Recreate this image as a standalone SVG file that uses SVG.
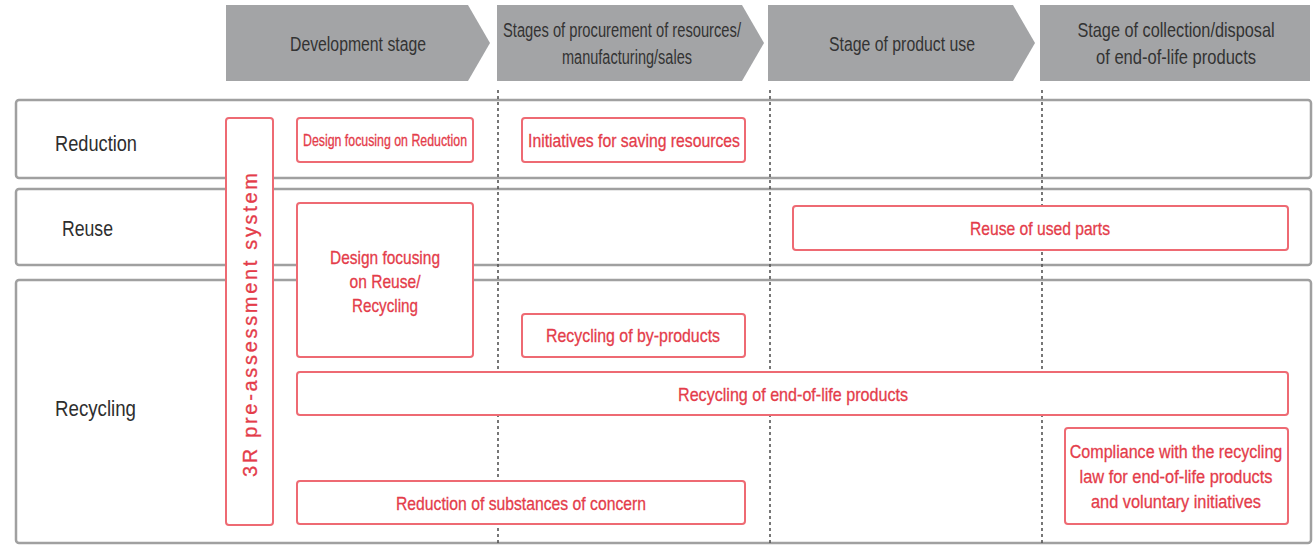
<svg xmlns="http://www.w3.org/2000/svg" width="1315" height="546" viewBox="0 0 1315 546">
  <style>
    .stage { fill: #a3a4a6; }
    .stage-txt { font-family: "Liberation Sans", Arial, sans-serif; font-size: 20px; fill: #333333; text-anchor: middle; }
    .row { fill: #ffffff; stroke: #a0a0a0; stroke-width: 2.5; }
    .row-txt { font-family: "Liberation Sans", Arial, sans-serif; font-size: 22px; fill: #2e2e2e; }
    .divider { stroke: #555555; stroke-width: 1.6; stroke-dasharray: 3 3; fill: none; }
    .box { fill: #ffffff; stroke: #ee6a73; stroke-width: 2; }
    .box-txt { font-family: "Liberation Sans", Arial, sans-serif; font-size: 19px; fill: #e43c4a; text-anchor: middle; stroke: #e43c4a; stroke-width: 0.3; }
    .small { font-size: 16px; }
    .vert-txt { font-family: "Liberation Sans", "DejaVu Sans", sans-serif; font-size: 20px; fill: #e43c4a; text-anchor: middle; stroke: #e43c4a; stroke-width: 0.3; }
  </style>

  <!-- lifecycle stage header arrows -->
  <g id="stage-development">
    <polygon class="stage" points="226,5 468,5 490,43 468,81 226,81"/>
    <text class="stage-txt" x="358" y="51" textLength="136" lengthAdjust="spacingAndGlyphs">Development stage</text>
  </g>
  <g id="stage-procurement">
    <polygon class="stage" points="497,5 742,5 764,43 742,81 497,81"/>
    <text class="stage-txt" x="622" y="37" textLength="238" lengthAdjust="spacingAndGlyphs">Stages of procurement of resources/</text>
    <text class="stage-txt" x="627" y="64" textLength="130" lengthAdjust="spacingAndGlyphs">manufacturing/sales</text>
  </g>
  <g id="stage-use">
    <polygon class="stage" points="768,5 1013,5 1035,43 1013,81 768,81"/>
    <text class="stage-txt" x="902" y="51" textLength="146" lengthAdjust="spacingAndGlyphs">Stage of product use</text>
  </g>
  <g id="stage-disposal">
    <rect class="stage" x="1040" y="5" width="270" height="76"/>
    <text class="stage-txt" transform="translate(1176,37) scale(0.85,1)" textLength="232" lengthAdjust="spacingAndGlyphs">Stage of collection/disposal</text>
    <text class="stage-txt" x="1176" y="64" textLength="160" lengthAdjust="spacingAndGlyphs">of end-of-life products</text>
  </g>

  <!-- 3R rows -->
  <g id="row-reduction">
    <rect class="row" x="16" y="100" width="1295" height="78" rx="3"/>
    <text class="row-txt" x="55" y="151" textLength="82" lengthAdjust="spacingAndGlyphs">Reduction</text>
  </g>
  <g id="row-reuse">
    <rect class="row" x="16" y="189" width="1295" height="76" rx="3"/>
    <text class="row-txt" x="62" y="236" textLength="51" lengthAdjust="spacingAndGlyphs">Reuse</text>
  </g>
  <g id="row-recycling">
    <rect class="row" x="16" y="280" width="1295" height="263" rx="3"/>
    <text class="row-txt" x="55" y="416" textLength="81" lengthAdjust="spacingAndGlyphs">Recycling</text>
  </g>

  <!-- stage boundaries -->
  <g id="connectors">
    <line class="divider" x1="498" y1="90" x2="498" y2="545"/>
    <line class="divider" x1="770" y1="90" x2="770" y2="545"/>
    <line class="divider" x1="1042" y1="90" x2="1042" y2="545"/>
  </g>

  <!-- initiatives -->
  <g id="pre-assessment">
    <rect class="box" x="226" y="118" width="47" height="407" rx="3"/>
    <text class="vert-txt" transform="translate(257,325) rotate(-90)" textLength="304" lengthAdjust="spacing">3R pre-assessment system</text>
  </g>
  <g id="design-reduction">
    <rect class="box" x="297" y="118" width="176" height="44" rx="3"/>
    <text class="box-txt small" x="385" y="146" textLength="164" lengthAdjust="spacingAndGlyphs">Design focusing on Reduction</text>
  </g>
  <g id="saving-resources">
    <rect class="box" x="522" y="118" width="223" height="44" rx="3"/>
    <text class="box-txt" x="634" y="147" textLength="212" lengthAdjust="spacingAndGlyphs">Initiatives for saving resources</text>
  </g>
  <g id="reuse-parts">
    <rect class="box" x="793" y="206" width="495" height="44" rx="3"/>
    <text class="box-txt" x="1040" y="235" textLength="140" lengthAdjust="spacingAndGlyphs">Reuse of used parts</text>
  </g>
  <g id="design-reuse-recycling">
    <rect class="box" x="297" y="203" width="176" height="154" rx="3"/>
    <text class="box-txt" x="385" y="264" textLength="110" lengthAdjust="spacingAndGlyphs">Design focusing</text>
    <text class="box-txt" x="385" y="288" textLength="71" lengthAdjust="spacingAndGlyphs">on Reuse/</text>
    <text class="box-txt" x="385" y="312" textLength="66" lengthAdjust="spacingAndGlyphs">Recycling</text>
  </g>
  <g id="byproducts">
    <rect class="box" x="522" y="314" width="223" height="43" rx="3"/>
    <text class="box-txt" x="633" y="342" textLength="174" lengthAdjust="spacingAndGlyphs">Recycling of by-products</text>
  </g>
  <g id="end-of-life-recycling">
    <rect class="box" x="297" y="372" width="991" height="43" rx="3"/>
    <text class="box-txt" x="793" y="401" textLength="230" lengthAdjust="spacingAndGlyphs">Recycling of end-of-life products</text>
  </g>
  <g id="compliance">
    <rect class="box" x="1065" y="428" width="223" height="96" rx="3"/>
    <text class="box-txt" transform="translate(1176,458) scale(0.85,1)" textLength="250" lengthAdjust="spacingAndGlyphs">Compliance with the recycling</text>
    <text class="box-txt" x="1176" y="483" textLength="193" lengthAdjust="spacingAndGlyphs">law for end-of-life products</text>
    <text class="box-txt" x="1176" y="508" textLength="170" lengthAdjust="spacingAndGlyphs">and voluntary initiatives</text>
  </g>
  <g id="substances">
    <rect class="box" x="297" y="481" width="448" height="43" rx="3"/>
    <text class="box-txt" x="521" y="510" textLength="250" lengthAdjust="spacingAndGlyphs">Reduction of substances of concern</text>
  </g>
</svg>
